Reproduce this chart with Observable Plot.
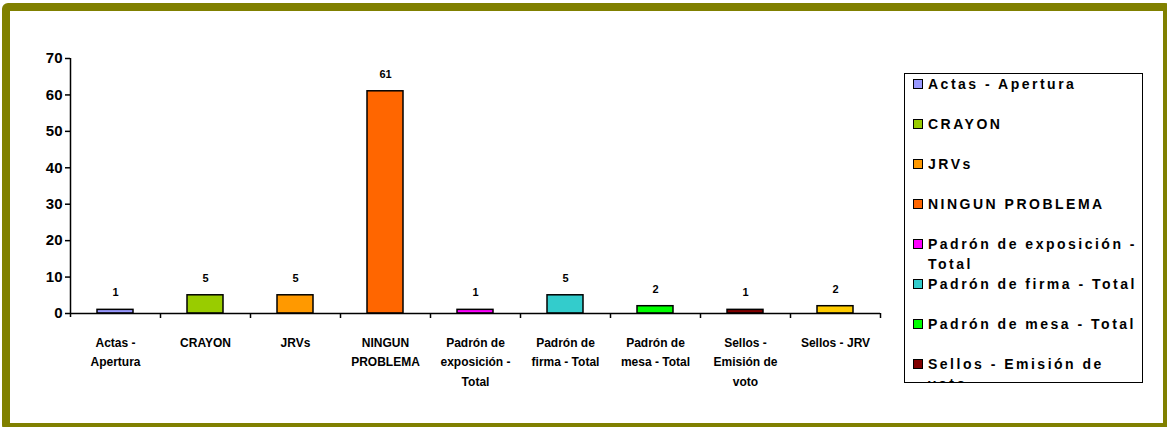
<!DOCTYPE html>
<html>
<head>
<meta charset="utf-8">
<script src="https://cdn.jsdelivr.net/npm/d3@7"></script>
<script src="https://cdn.jsdelivr.net/npm/@observablehq/plot@0.6"></script>
<style>
  html, body { margin: 0; padding: 0; background: #fff; overflow: hidden; }
  #wrap { position: relative; width: 1167px; height: 427px; overflow: hidden; font-family: "Liberation Sans", Arial, sans-serif; }
  #frame { position: absolute; left: 2px; top: 3px; width: 1169px; height: 428px; box-sizing: border-box; border: 8.5px solid #808000; border-radius: 6px; }
  #chart { position: absolute; left: 0; top: 0; }
  #legend { position: absolute; left: 904px; top: 73px; width: 239px; height: 310px; box-sizing: border-box; border: 1.5px solid #000; overflow: hidden; background: #fff; }
  .item { display: flex; align-items: flex-start; height: 40px; padding-left: 8px; }
  .sw { flex: none; width: 8px; height: 8px; border: 1px solid #000; margin-top: 5px; margin-right: 5px; }
  .lt { width: 213px; font-size: 14px; font-weight: bold; letter-spacing: 2.5px; line-height: 20px; color: #000; }
</style>
</head>
<body>
<div id="wrap">
  <div id="frame"></div>
  <div id="chart"></div>
  <div id="legend"></div>
</div>
<script>
const categories = ["Actas - Apertura", "CRAYON", "JRVs", "NINGUN PROBLEMA", "Padrón de exposición - Total", "Padrón de firma - Total", "Padrón de mesa - Total", "Sellos - Emisión de voto", "Sellos - JRV"];
const axisLabels = ["Actas -\nApertura", "CRAYON", "JRVs", "NINGUN\nPROBLEMA", "Padrón de\nexposición -\nTotal", "Padrón de\nfirma - Total", "Padrón de\nmesa - Total", "Sellos -\nEmisión de\nvoto", "Sellos - JRV"];
const values = [1, 5, 5, 61, 1, 5, 2, 1, 2];
const colors = ["#9999FF", "#99CC00", "#FF9900", "#FF6600", "#FF00FF", "#33CCCC", "#00FF00", "#800000", "#FFCC00"];
const yTicks = [0, 10, 20, 30, 40, 50, 60, 70];

const data = categories.map((c, i) => ({cat: c, value: values[i], label: axisLabels[i]}));

const plot = Plot.plot({
  width: 900,
  height: 427,
  marginLeft: 70,
  marginRight: 20,
  marginTop: 58,
  marginBottom: 114,
  style: {fontFamily: "'Liberation Sans', Arial, sans-serif", color: "#000", background: "transparent", overflow: "visible"},
  x: {domain: categories, axis: null, paddingInner: 0.6, paddingOuter: 0.3},
  y: {domain: [0, 70], axis: null, label: null},
  color: {domain: categories, range: colors},
  marks: [
    Plot.barY(data, {x: "cat", y: "value", fill: "cat", stroke: "#000", strokeWidth: 1.5}),
    Plot.ruleY([0], {stroke: "#000", strokeWidth: 1.5}),
    Plot.ruleX(categories, {x: d => d, dx: 45, y1: 0, y2: 0, insetBottom: -5, stroke: "#000", strokeWidth: 1.5}),
    Plot.ruleX([categories[0]], {x: d => d, dx: -45, y1: 70, y2: 0, insetBottom: -4, stroke: "#000", strokeWidth: 1.5}),
    Plot.axisY(yTicks, {label: null, tickSize: 5, tickPadding: 3, fontSize: 15, fontWeight: "bold", strokeWidth: 1.5}),
    Plot.text(data, {x: "cat", y: "value", text: d => String(d.value), dy: -17, fontSize: 11, fontWeight: "bold"}),
    Plot.text(data, {x: "cat", text: "label", frameAnchor: "bottom", lineAnchor: "top", dy: 20, fontSize: 12, fontWeight: "bold", lineHeight: 1.6})
  ]
});
document.getElementById("chart").appendChild(plot);

const legend = document.getElementById("legend");
categories.forEach((c, i) => {
  const item = document.createElement("div");
  item.className = "item";
  const sw = document.createElement("div");
  sw.className = "sw";
  sw.style.background = colors[i];
  const t = document.createElement("div");
  t.className = "lt";
  t.textContent = c;
  item.appendChild(sw);
  item.appendChild(t);
  legend.appendChild(item);
});
</script>
</body>
</html>
